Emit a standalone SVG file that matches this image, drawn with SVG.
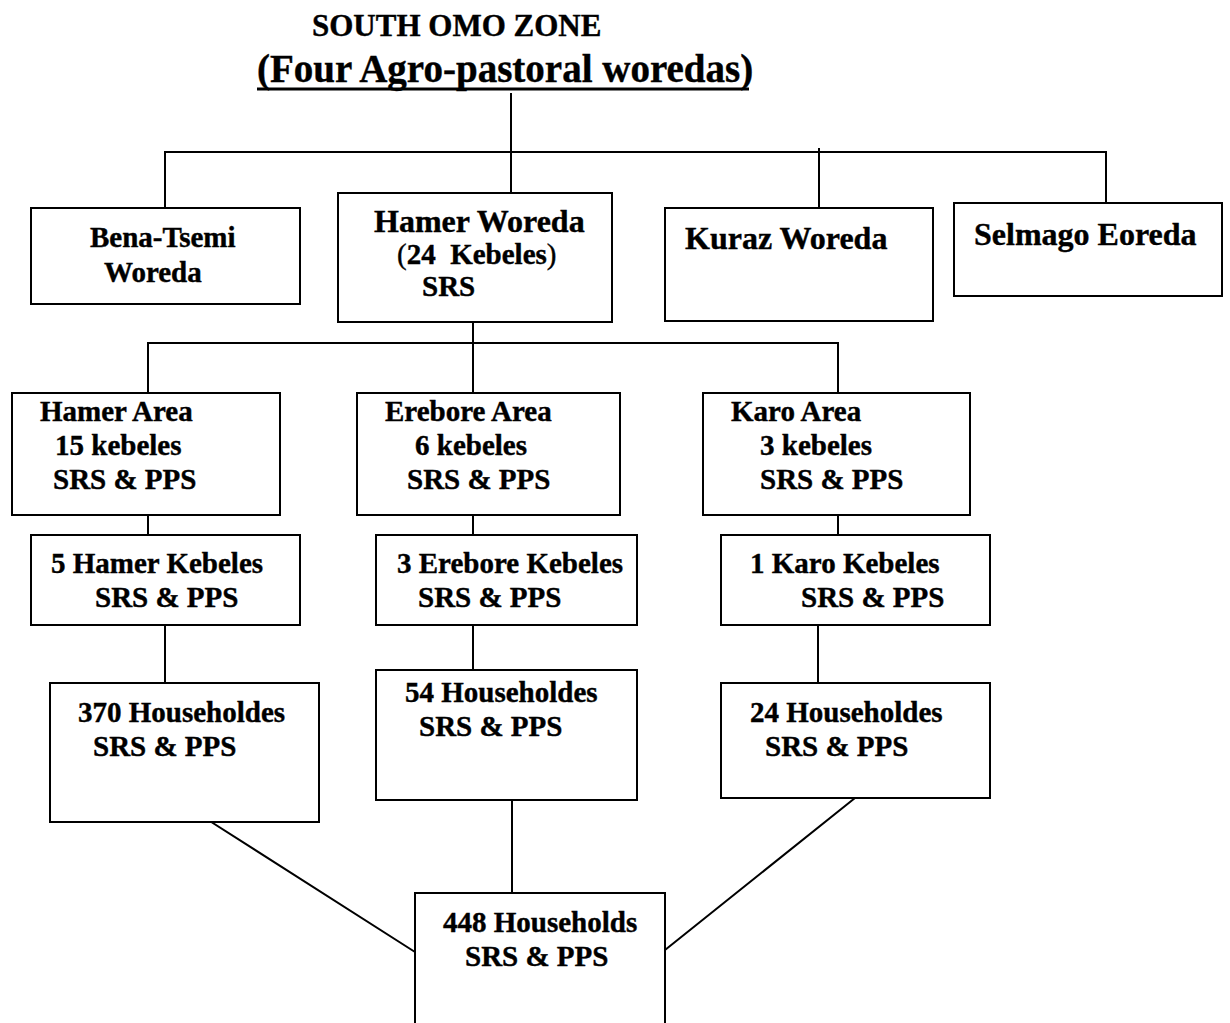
<svg xmlns="http://www.w3.org/2000/svg" width="1230" height="1023" viewBox="0 0 1230 1023">
<style>
text{font-family:"Liberation Serif","Times New Roman",serif;font-weight:bold;fill:#000;stroke:#000;stroke-width:0.4;white-space:pre}
.b{font-size:29px}
.w{font-size:32px}
.t1{font-size:31px}
.t2{font-size:39px}
.box{fill:#fff;stroke:#000;stroke-width:2}
.ln{stroke:#000;stroke-width:2;fill:none}
</style>
<rect width="1230" height="1023" fill="#fff"/>
<g id="title">
<text class="t1" x="312" y="36" font-weight="bold">SOUTH OMO ZONE</text>
<text class="t2" x="257" y="82" font-weight="bold">(Four Agro-pastoral woredas)</text>
<line x1="257" y1="89" x2="749" y2="89" stroke="#000" stroke-width="3"/>
</g>
<g id="connectors">
<path class="ln" d="M511 93V193M165 208V152H1106V208M819 148V208"/>
<path class="ln" d="M473 322V393M148 393V343H838V393"/>
<path class="ln" d="M148 515V535M473 515V535M838 515V535"/>
<path class="ln" d="M165 625V683M473 625V670M818 625V683"/>
<path class="ln" d="M205 818L415 952M512 800V893M855 798L665 950"/>
</g>
<g id="bena">
<rect class="box" x="31" y="208" width="269" height="96"/>
<text class="b" x="90" y="247">Bena-Tsemi</text>
<text class="b" x="104" y="282">Woreda</text>
</g>
<g id="hamer-woreda">
<rect class="box" x="338" y="193" width="274" height="129"/>
<text class="w" x="374" y="232">Hamer Woreda</text>
<text class="b" x="397" y="264"><tspan font-weight="normal">(</tspan>24  Kebeles<tspan font-weight="normal">)</tspan></text>
<text class="b" x="422" y="296">SRS</text>
</g>
<g id="kuraz">
<rect class="box" x="665" y="208" width="268" height="113"/>
<text class="w" x="685" y="249">Kuraz Woreda</text>
</g>
<g id="selmago">
<rect class="box" x="954" y="203" width="268" height="93"/>
<text class="w" x="974" y="245">Selmago Eoreda</text>
</g>
<g id="hamer-area">
<rect class="box" x="12" y="393" width="268" height="122"/>
<text class="b" x="40" y="421">Hamer Area</text>
<text class="b" x="55" y="455">15 kebeles</text>
<text class="b" x="53" y="489">SRS &amp; PPS</text>
</g>
<g id="erebore-area">
<rect class="box" x="357" y="393" width="263" height="122"/>
<text class="b" x="385" y="421">Erebore Area</text>
<text class="b" x="415" y="455">6 kebeles</text>
<text class="b" x="407" y="489">SRS &amp; PPS</text>
</g>
<g id="karo-area">
<rect class="box" x="703" y="393" width="267" height="122"/>
<text class="b" x="731" y="421">Karo Area</text>
<text class="b" x="760" y="455">3 kebeles</text>
<text class="b" x="760" y="489">SRS &amp; PPS</text>
</g>
<g id="hamer-kebeles">
<rect class="box" x="31" y="535" width="269" height="90"/>
<text class="b" x="51" y="573">5 Hamer Kebeles</text>
<text class="b" x="95" y="607">SRS &amp; PPS</text>
</g>
<g id="erebore-kebeles">
<rect class="box" x="376" y="535" width="261" height="90"/>
<text class="b" x="397" y="573">3 Erebore Kebeles</text>
<text class="b" x="418" y="607">SRS &amp; PPS</text>
</g>
<g id="karo-kebeles">
<rect class="box" x="721" y="535" width="269" height="90"/>
<text class="b" x="750" y="573">1 Karo Kebeles</text>
<text class="b" x="801" y="607">SRS &amp; PPS</text>
</g>
<g id="hh-370">
<rect class="box" x="50" y="683" width="269" height="139"/>
<text class="b" x="78" y="722">370 Householdes</text>
<text class="b" x="93" y="756">SRS &amp; PPS</text>
</g>
<g id="hh-54">
<rect class="box" x="376" y="670" width="261" height="130"/>
<text class="b" x="405" y="702">54 Householdes</text>
<text class="b" x="419" y="736">SRS &amp; PPS</text>
</g>
<g id="hh-24">
<rect class="box" x="721" y="683" width="269" height="115"/>
<text class="b" x="750" y="722">24 Householdes</text>
<text class="b" x="765" y="756">SRS &amp; PPS</text>
</g>
<g id="hh-448">
<rect class="box" x="415" y="893" width="250" height="140"/>
<text class="b" x="443" y="932">448 Households</text>
<text class="b" x="465" y="966">SRS &amp; PPS</text>
</g>
</svg>
